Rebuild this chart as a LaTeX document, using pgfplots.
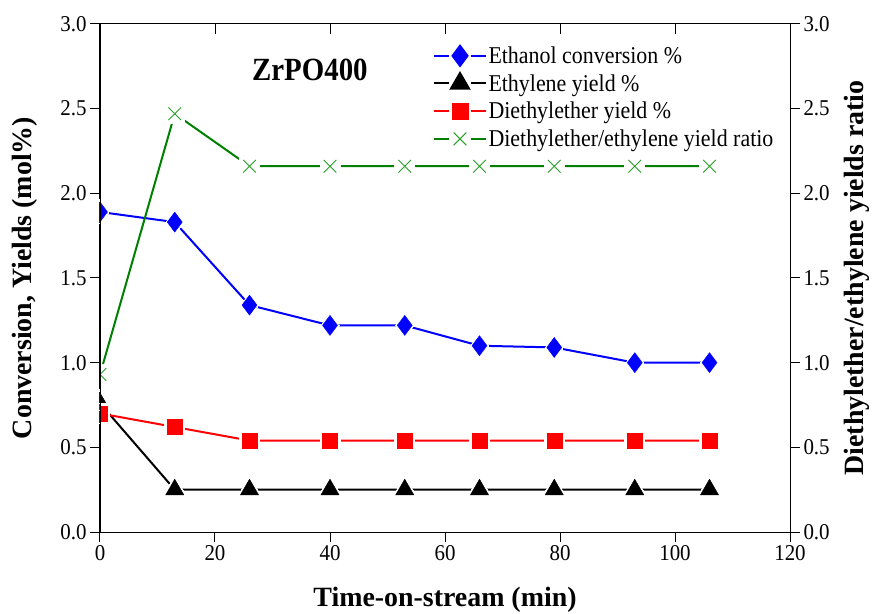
\documentclass[border=0pt]{standalone}
\usepackage{pgfplots}
\pgfplotsset{compat=1.18}
\usepackage{fontspec}
\setmainfont{Liberation Serif}
\definecolor{og}{RGB}{0,128,0}
\definecolor{ogm}{RGB}{40,160,40}
\pgfplotstableread{
t conv ethy dee ratio
0   1.89 0.76 0.70 0.93
13  1.83 0.25 0.62 2.47
26  1.34 0.25 0.54 2.16
40  1.22 0.25 0.54 2.16
53  1.22 0.25 0.54 2.16
66  1.10 0.25 0.54 2.16
79  1.09 0.25 0.54 2.16
93  1.00 0.25 0.54 2.16
106 1.00 0.25 0.54 2.16
}\data
\begin{document}
\begin{tikzpicture}
\pgfplotsset{
  every axis/.append style={
    scale only axis, width=690bp, height=508bp,
    xmin=0,xmax=120,ymin=0,ymax=3,
    xtick={0,20,...,120}, ytick={0,0.5,...,3},
    major tick length=10bp,
    tick style={line width=1bp, black},
    axis line style={line width=1bp},
    tick label style={font=\fontsize{21}{21}\selectfont, yscale=1.08},
    /pgf/number format/assume math mode=true,
    y tick label style={/pgf/number format/.cd, fixed, fixed zerofill, precision=1},
    clip mode=individual, clip marker paths=true,
  },
  mylegimg/.style={legend image code/.code={%
    \draw[mark=none] (0bp,0bp) -- (15bp,0bp) (37bp,0bp) -- (52bp,0bp);
    \draw plot coordinates {(26bp,0bp)};}},
  halo/.style={only marks, forget plot, white, mark options={solid, white, line width=0pt}},
}
\begin{axis}[xtick pos=bottom, ytick pos=left, tick align=outside,
  xlabel={Time-on-stream (min)}, ylabel={Conversion, Yields (mol\%)},
  every axis x label/.style={at={(axis description cs:0.5,0)}, yshift=-68bp, anchor=center,
    font=\bfseries\fontsize{28}{28}\selectfont},
  every axis y label/.style={at={(axis description cs:0,0.5)}, xshift=-75bp, rotate=90, anchor=center,
    font=\bfseries\fontsize{28}{28}\selectfont},
  legend style={at={(0.478,0.963)},anchor=north west, draw=none, fill=none,
    font=\fontsize{22}{22}\selectfont, row sep=6bp, nodes={inner sep=1.5bp, yscale=1.1}},
  legend cell align=left, mylegimg]
% ethanol conversion
\addplot[blue, line width=2bp, mark=none, forget plot] table[x=t,y=conv]{\data};
\addplot[halo, mark=diamond*, mark size=12bp] table[x=t,y=conv]{\data};
\addplot[blue, only marks, forget plot, mark=diamond*, mark size=10bp, mark options={solid}] table[x=t,y=conv]{\data};
% ethylene
\addplot[black, line width=2bp, mark=none, forget plot] table[x=t,y=ethy]{\data};
\addplot[halo, mark=triangle*, mark size=14bp] table[x=t,y=ethy]{\data};
\addplot[black, only marks, forget plot, mark=triangle*, mark size=10.5bp, mark options={solid}] table[x=t,y=ethy]{\data};
% diethylether
\addplot[red, line width=2bp, mark=none, forget plot] table[x=t,y=dee]{\data};
\addplot[halo, mark=square*, mark size=10bp] table[x=t,y=dee]{\data};
\addplot[red, only marks, forget plot, mark=square*, mark size=7.5bp, mark options={solid}] table[x=t,y=dee]{\data};
% legend
\addlegendimage{blue, line width=2bp, mark=diamond*, mark size=10bp, mark options={solid}}
\addlegendentry{Ethanol conversion \%}
\addlegendimage{black, line width=2bp, mark=triangle*, mark size=10.5bp, mark options={solid}}
\addlegendentry{Ethylene yield \%}
\addlegendimage{red, line width=2bp, mark=square*, mark size=7.5bp, mark options={solid}}
\addlegendentry{Diethylether yield \%}
\addlegendimage{og, line width=2bp, mark=x, mark size=9bp, mark options={solid, ogm, line width=1bp}}
\addlegendentry{Diethylether/ethylene yield ratio}
\node[font=\bfseries\fontsize{29}{29}\selectfont, yscale=1.12] at (axis cs:36.5,2.73) {ZrPO400};
\end{axis}
\begin{axis}[axis y line*=right, axis x line=none, tick align=outside,
  ylabel={Diethylether/ethylene yields ratio},
  every axis y label/.style={at={(axis description cs:1,0.5)}, xshift=67bp, rotate=90, anchor=center,
    font=\bfseries\fontsize{28}{28}\selectfont}]
\addplot[og, line width=2bp, mark=none, forget plot] table[x=t,y=ratio]{\data};
\addplot[halo, mark=square*, mark size=10bp] table[x=t,y=ratio]{\data};
\addplot[ogm, only marks, forget plot, mark=x, mark size=9bp, mark options={solid, line width=1bp}] table[x=t,y=ratio]{\data};
\end{axis}
\begin{axis}[axis x line*=top, tick align=inside, xticklabels={,,,,,,,}, ytick=\empty]
\end{axis}
\pgfresetboundingbox
\path (-100bp,-82bp) rectangle (777bp,532bp);
\end{tikzpicture}
\end{document}
